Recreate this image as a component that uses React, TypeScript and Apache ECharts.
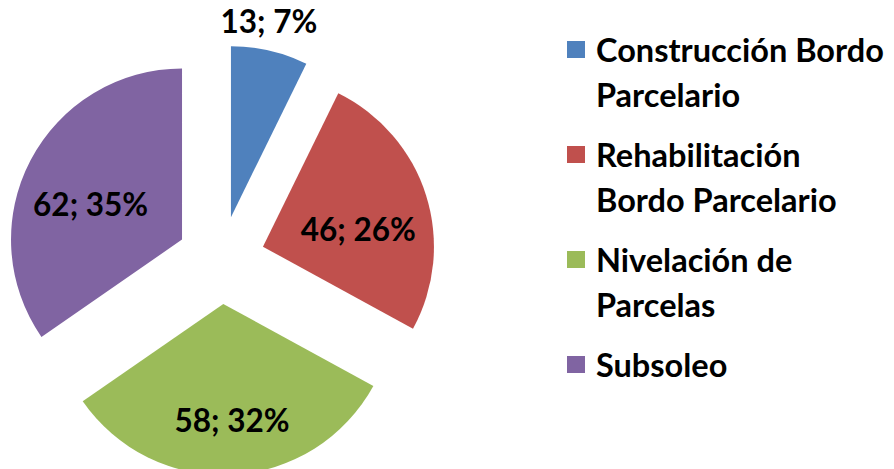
import React, { useEffect, useRef } from "react";
import * as echarts from "echarts";

// ---- data ----
const categories = [
  "Construcción Bordo Parcelario",
  "Rehabilitación Bordo Parcelario",
  "Nivelación de Parcelas",
  "Subsoleo",
];
const values = [13, 46, 58, 62];
const percentLabels = ["7%", "26%", "32%", "35%"];
const legendLines = [
  ["Construcción Bordo", "Parcelario"],
  ["Rehabilitación", "Bordo Parcelario"],
  ["Nivelación de", "Parcelas"],
  ["Subsoleo"],
];

// ---- styles ----
const colors = ["#4F81BD", "#C0504D", "#9BBB59", "#8064A2"];
const labelNudges: [number, number][] = [
  [18, -110],
  [11, 9],
  [4, 28],
  [-13, 5],
];
const FONT = "Lato, 'Liberation Sans', sans-serif";

export default function App() {
  const ref = useRef<HTMLDivElement>(null);

  useEffect(() => {
    if (!ref.current) return;
    const chart = echarts.init(ref.current, undefined, { renderer: "svg" });
    const legendText = (name: string) => {
      const i = categories.indexOf(name);
      const lines = legendLines[i];
      return lines.length > 1 ? "\n" + lines.join("\n") : "\n" + lines[0] + "\n";
    };
    chart.setOption({
      animation: false,
      backgroundColor: "#ffffff",
      legend: {
        orient: "vertical",
        left: 567,
        top: -18,
        padding: 0,
        itemWidth: 18,
        itemHeight: 17,
        itemGap: -30,
        icon: "rect",
        selectedMode: false,
        formatter: legendText,
        textStyle: {
          fontFamily: FONT,
          fontWeight: "bold",
          fontSize: 32.5,
          lineHeight: 45,
          color: "#000000",
          padding: [0, 0, 0, 6],
        },
        data: categories,
      },
      series: [
        {
          type: "pie",
          center: [221, 260],
          radius: 171,
          startAngle: 90,
          clockwise: true,
          selectedMode: "multiple",
          selectedOffset: 44,
          avoidLabelOverlap: false,
          emphasis: { disabled: true },
          select: { itemStyle: { borderWidth: 0 }, label: { show: true } },
          label: {
            show: true,
            position: "inside",
            fontFamily: FONT,
            fontWeight: "bold",
            fontSize: 31.5,
            color: "#000000",
            formatter: (p: any) => `${p.value}; ${percentLabels[p.dataIndex]}`,
          },
          labelLayout: (p: any) => ({
            dx: labelNudges[p.dataIndex][0],
            dy: labelNudges[p.dataIndex][1],
          }),
          labelLine: { show: false },
          itemStyle: { borderWidth: 0 },
          data: categories.map((name, i) => ({
            name,
            value: values[i],
            selected: true,
            itemStyle: { color: colors[i] },
          })),
        },
      ],
    });
    return () => chart.dispose();
  }, []);

  return (
    <div
      ref={ref}
      style={{ position: "fixed", left: 0, top: 0, width: 894, height: 469, background: "#fff" }}
    />
  );
}
